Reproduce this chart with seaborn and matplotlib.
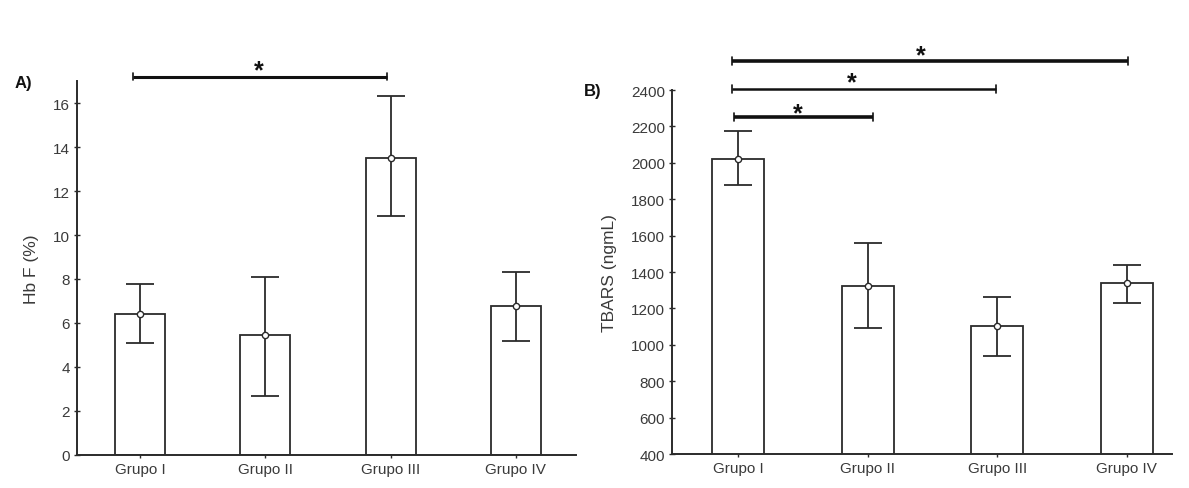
import numpy as np
import pandas as pd
import matplotlib
matplotlib.use("Agg")
import matplotlib.pyplot as plt
import seaborn as sns

# ---- data ----
groups = ["Grupo I", "Grupo II", "Grupo III", "Grupo IV"]
hbf_mean = [6.4, 5.45, 13.5, 6.75]
hbf_upper = [7.75, 8.1, 16.3, 8.3]
hbf_lower = [5.1, 2.7, 10.85, 5.2]
tbars_mean = [2020, 1325, 1105, 1340]
tbars_upper = [2175, 1560, 1265, 1440]
tbars_lower = [1878, 1095, 940, 1230]
hbf_ticks = [0, 2, 4, 6, 8, 10, 12, 14, 16]
tbars_ticks = [400, 600, 800, 1000, 1200, 1400, 1600, 1800, 2000, 2200, 2400]

sns.set_theme(style="white")
plt.rcParams["font.family"] = ["Liberation Sans", "DejaVu Sans"]

fig = plt.figure(figsize=(11.89, 4.89), dpi=100)
axA = fig.add_axes([0.0648, 0.0675, 0.4196, 0.7648])
axB = fig.add_axes([0.5652, 0.0695, 0.4205, 0.7444])

dark = "#2b2b2b"
txt = "#3a3a3a"


def panel(ax, means, upper, lower, ylim, ticks, ylabel, xlim, lpad):
    df = pd.DataFrame({"grupo": groups, "valor": means})
    sns.barplot(data=df, x="grupo", y="valor", ax=ax, color="white",
                edgecolor=dark, linewidth=1.3, width=0.4, errorbar=None,
                saturation=1)
    x = np.arange(len(groups))
    m = np.array(means, float)
    err = [m - np.array(lower, float), np.array(upper, float) - m]
    ax.errorbar(x, m, yerr=err, fmt="none", ecolor=dark, elinewidth=1.3,
                capsize=10, capthick=1.3, zorder=4)
    ax.plot(x, m, linestyle="none", marker="o", markersize=4.5,
            markerfacecolor="white", markeredgecolor=dark,
            markeredgewidth=1.0, zorder=5)
    ax.set_ylim(*ylim)
    ax.set_xlim(*xlim)
    ax.set_yticks(ticks)
    ax.set_yticklabels([str(t) for t in ticks])
    ax.set_xlabel("")
    ax.set_ylabel(ylabel, fontsize=12.5, color=txt, labelpad=lpad)
    for s in ["top", "right"]:
        ax.spines[s].set_visible(False)
    for s in ["left", "bottom"]:
        ax.spines[s].set_color(dark)
        ax.spines[s].set_linewidth(1.4)
    ax.tick_params(axis="both", which="both", direction="inout", length=4,
                   width=1.0, color=dark, labelsize=11, labelcolor=txt,
                   left=True, bottom=True, pad=3)
    ax.set_facecolor("white")


panel(axA, hbf_mean, hbf_upper, hbf_lower, (0, 17), hbf_ticks,
      "Hb F (%)", (-0.503, 3.48), 10)
panel(axB, tbars_mean, tbars_upper, tbars_lower, (400, 2400), tbars_ticks,
      "TBARS (ngmL)", (-0.51, 3.35), 10)


def sig(ax, x0, x1, y, ys, xs, lw, tick):
    ax.plot([x0, x1], [y, y], color="#111111", lw=lw, clip_on=False,
            solid_capstyle="butt")
    for xx in (x0, x1):
        ax.plot([xx, xx], [y - tick, y + tick], color="#111111", lw=1.2,
                clip_on=False)
    ax.text(xs, ys, "*", ha="center", va="center", fontsize=18,
            fontweight="bold", color="#111111", clip_on=False)


# Panel A significance (Grupo I vs Grupo III)
sig(axA, -0.056, 1.97, 17.2, 17.5, 0.95, 2.2, 0.15)
# Panel B significance (Grupo I vs II, III, IV)
sig(axB, -0.03, 1.04, 2251, 2270, 0.46, 2.6, 22)
sig(axB, -0.05, 1.99, 2405, 2440, 0.88, 1.8, 22)
sig(axB, -0.05, 3.01, 2558, 2590, 1.41, 2.6, 22)

fig.text(0.012, 0.83, "A)", fontsize=12, fontweight="bold", color="#111111",
         va="center", ha="left")
fig.text(0.491, 0.812, "B)", fontsize=12, fontweight="bold", color="#111111",
         va="center", ha="left")

fig.savefig("out.png", dpi=100, facecolor="white")
